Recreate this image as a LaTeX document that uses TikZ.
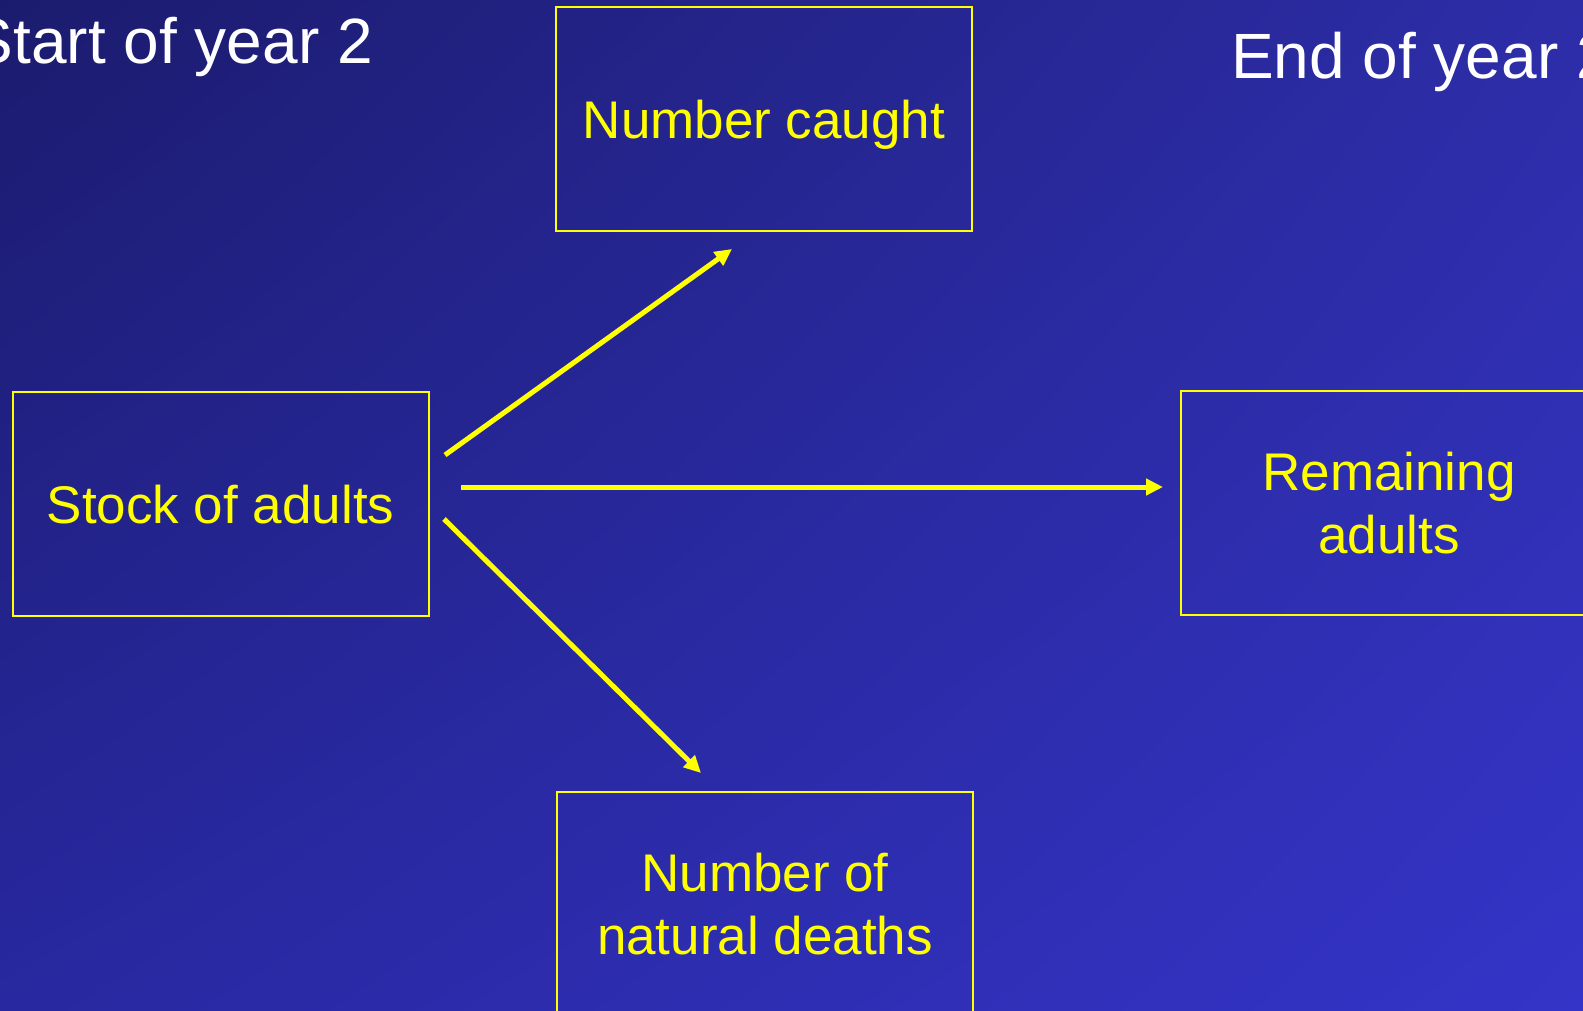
\documentclass[tikz,border=0pt]{standalone}
\usepackage{fontspec}
\setmainfont{Liberation Sans}
\usetikzlibrary{arrows.meta,calc,shadings}
\definecolor{bgUL}{RGB}{27,27,110}
\definecolor{bgUR}{RGB}{45,45,168}
\definecolor{bgLL}{RGB}{40,40,160}
\definecolor{bgLR}{RGB}{52,52,200}
\definecolor{lineyellow}{RGB}{255,255,0}
\begin{document}
\begin{tikzpicture}[x=1pt,y=-1pt,
  box/.style={draw=lineyellow,line width=2pt,minimum width=416pt,minimum height=224pt,
    inner sep=0pt,text=lineyellow,font=\fontsize{53}{63}\selectfont,align=center},
  oneline/.style={text height=39pt,text depth=0pt},
  title/.style={text=white,font=\fontsize{64}{76}\selectfont,inner sep=0pt},
  arr/.style={draw=lineyellow,line width=5pt,-{Triangle[length=17pt,width=16pt]}}]
\useasboundingbox (0,0) rectangle (1583,1010);
\shade[upper left=bgUL,upper right=bgUR,lower left=bgLL,lower right=bgLR] (0,0) rectangle (1583,1010);
\node[box,oneline] (caught) at (764,119) {Number caught};
\node[box,oneline] (stock) at (220.5,503.5) {Stock of adults};
\node[box] (remain) at (1389,503) {Remaining\\adults};
\node[box] (deaths) at (765,904) {Number of\\natural deaths};
\node[title,anchor=base east] (start) at (373,63) {Start of year 2};
\node[title,anchor=base west] (endyear) at (1231,78) {End of year 2};
\draw[arr] ($(stock.east)+(15.5,-48.5)$) -- ($(caught.south)+(-32,17)$);
\draw[arr] ($(stock.east)+(31.5,-16.5)$) -- ($(remain.west)+(-17,-16)$);
\draw[arr] ($(stock.east)+(14.5,15.5)$) -- ($(deaths.north)+(-64,-18)$);
\end{tikzpicture}
\end{document}
